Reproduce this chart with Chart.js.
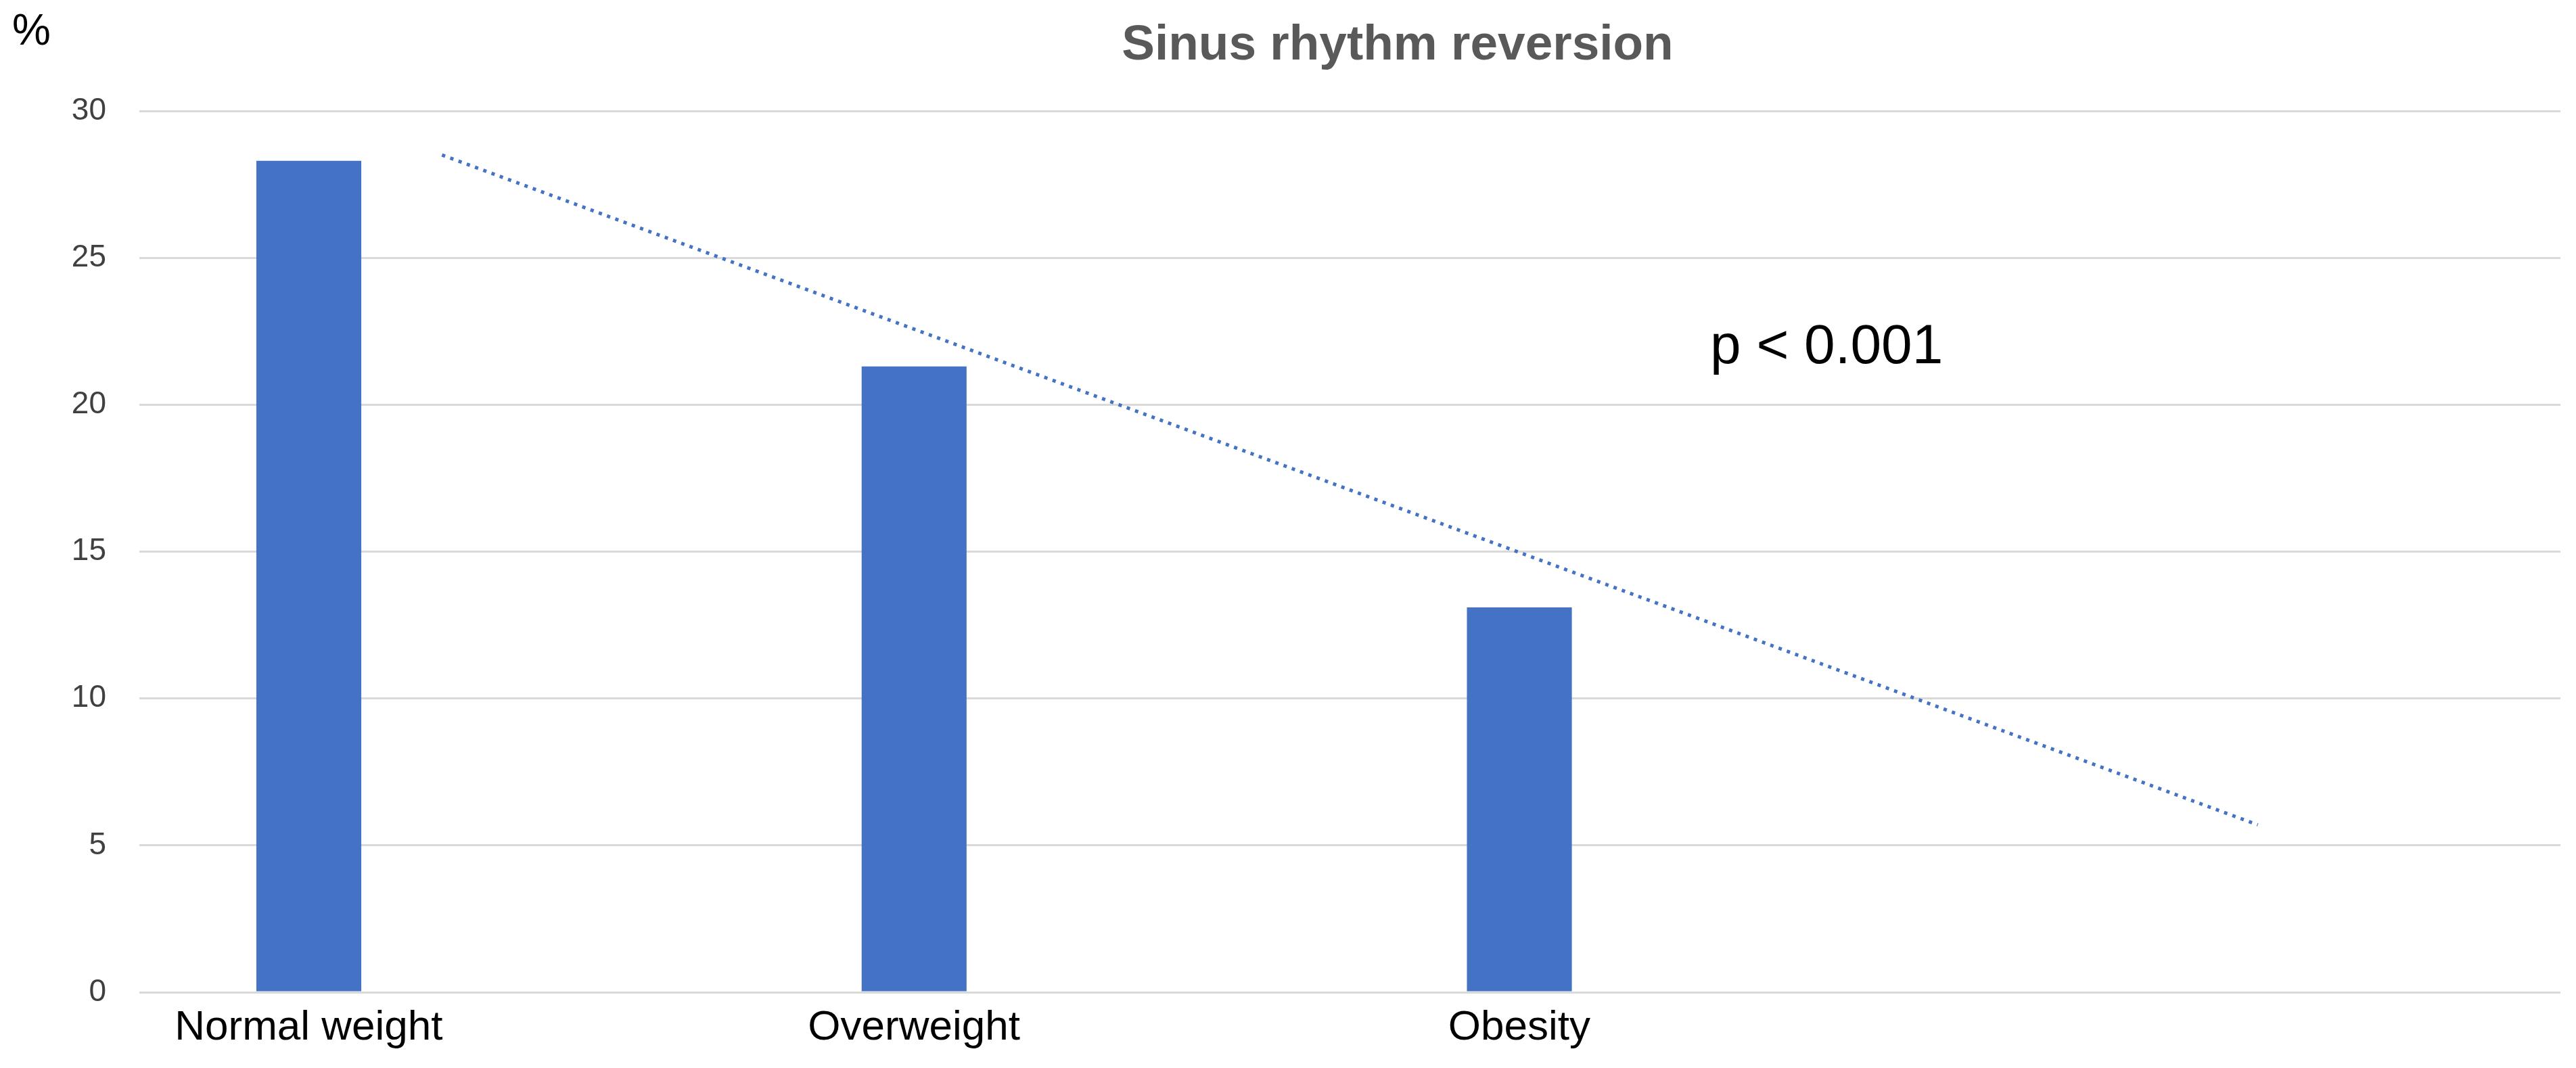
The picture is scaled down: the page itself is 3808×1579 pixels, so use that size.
<!DOCTYPE html>
<html>
<head>
<meta charset="utf-8">
<script src="https://cdn.jsdelivr.net/npm/chart.js@4.4.1/dist/chart.umd.min.js"></script>
<style>
  html, body { margin: 0; padding: 0; background: #fff; }
  #wrap { width: 3808px; height: 1579px; }
</style>
</head>
<body>
<div id="wrap"><canvas id="chart"></canvas></div>
<script>
// weight groups (4th slot is empty, Excel trendline runs one period further)
const categories = ['Normal weight', 'Overweight', 'Obesity', '']
const reversionPct = [28.3, 21.3, 13.1, null]
const emptySeries = [null, null, null, null]
const trendPct = [28.5, 20.9, 13.3, 5.7]
const yTicks = [0, 5, 10, 15, 20, 25, 30]

const chartTitle = 'Sinus rhythm reversion'
const unitLabel = '%'
const pLabel = 'p < 0.001'

const regular = '"Liberation Sans", Arial, sans-serif'

Chart.defaults.font.family = regular

const extraText = {
    id: 'extraText',
    afterDraw(chart) {
        let ctx = chart.ctx
        ctx.save()
        ctx.textBaseline = 'alphabetic'
        // title
        ctx.fillStyle = '#595959'
        ctx.font = 'bold 73px ' + regular
        ctx.textAlign = 'center'
        ctx.fillText(chartTitle, 2066, 88)
        // unit
        ctx.fillStyle = '#000'
        ctx.font = '64px ' + regular
        ctx.textAlign = 'left'
        ctx.fillText(unitLabel, 18, 66)
        // p value
        ctx.font = '82px ' + regular
        ctx.fillText(pLabel, 2528, 537)
        ctx.restore()
    }
}

const data = {
    labels: categories,
    datasets: [{
        type: 'line',
        label: 'Linear trend',
        data: trendPct,
        borderColor: '#4472C4',
        borderWidth: 5,
        borderDash: [5, 8],
        borderCapStyle: 'butt',
        pointRadius: 0,
        fill: false,
        tension: 0
    }, {
        type: 'bar',
        label: 'Sinus rhythm reversion',
        data: reversionPct,
        backgroundColor: '#4472C4',
        borderWidth: 0,
        categoryPercentage: 0.88,
        barPercentage: 0.394
    }, {
        type: 'bar',
        label: '',
        data: emptySeries,
        backgroundColor: '#4472C4',
        categoryPercentage: 0.88,
        barPercentage: 0.394
    }]
}

const config = {
    data: data,
    options: {
        responsive: false,
        animation: false,
        devicePixelRatio: 1,
        layout: { padding: { top: 164, right: 23, bottom: 0, left: 0 } },
        plugins: {
            legend: { display: false },
            title: { display: false },
            tooltip: { enabled: false }
        },
        scales: {
            x: {
                type: 'category',
                offset: true,
                grid: { display: false, drawTicks: false },
                border: { display: false },
                ticks: {
                    color: '#000',
                    font: { size: 62 },
                    padding: 16,
                    labelOffset: -197,
                    maxRotation: 0,
                    autoSkip: false
                },
                afterFit(scale) { scale.height = 112 }
            },
            y: {
                min: 0,
                max: 30,
                afterBuildTicks(scale) { scale.ticks = yTicks.map(v => ({ value: v })) },
                grid: { color: '#d9d9d9', lineWidth: 3, drawTicks: false },
                border: { display: false },
                ticks: {
                    color: '#404040',
                    font: { size: 46 },
                    padding: 49
                },
                afterFit(scale) { scale.width = 206 }
            }
        }
    },
    plugins: [extraText]
}

let canvas = document.getElementById('chart')
canvas.width = 3808
canvas.height = 1579
new Chart(canvas.getContext('2d'), config)
</script>
</body>
</html>
